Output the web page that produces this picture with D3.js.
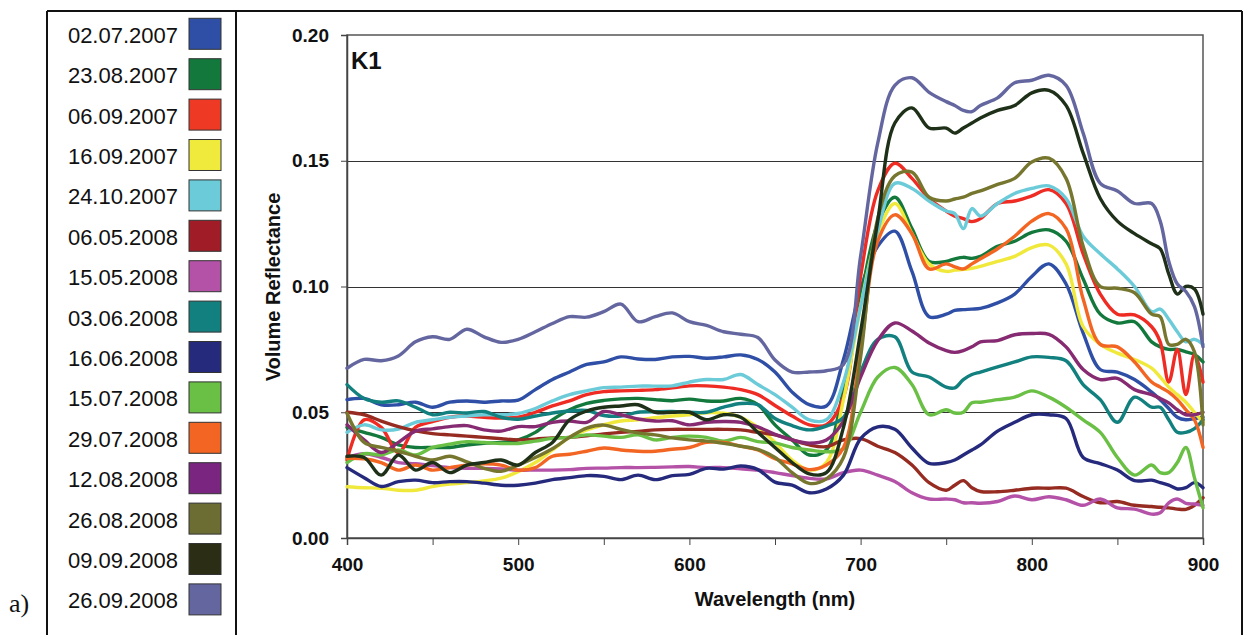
<!DOCTYPE html>
<html><head><meta charset="utf-8">
<script src="https://cdn.jsdelivr.net/npm/d3@7"></script>
<style>body{margin:0;background:#fff;} svg{display:block;font-family:"Liberation Sans",Arial,sans-serif;}</style>
</head><body><svg id="c" width="1244" height="635"></svg>
<script>
const wavelengths = [400,410,420,430,440,450,460,470,480,490,500,510,520,530,540,550,560,570,580,590,600,610,620,630,640,650,660,670,680,690,700,710,720,730,740,750,755,760,765,770,780,790,800,810,820,830,840,850,860,870,875,880,885,890,895,900];
const dates = ["02.07.2007","23.08.2007","06.09.2007","16.09.2007","24.10.2007","06.05.2008","15.05.2008","03.06.2008","16.06.2008","15.07.2008","29.07.2008","12.08.2008","26.08.2008","09.09.2008","26.09.2008"];
const xTickValues = [400,450,500,550,600,650,700,750,800,850,900];
const xTickLabels = [400,500,600,700,800,900];
const yTickValues = [0,0.05,0.10,0.15,0.20];

const r_02_07_2007 = [0.055,0.0555,0.053,0.053,0.054,0.052,0.054,0.0545,0.054,0.0545, 0.0548,0.059,0.063,0.066,0.069,0.070,0.072,0.0712,0.071,0.072, 0.0722,0.0715,0.072,0.0728,0.071,0.066,0.058,0.053,0.0525,0.071, 0.099,0.116,0.122,0.106,0.088,0.089,0.0905,0.0908,0.091,0.0913,0.0935,0.097, 0.104,0.109,0.101,0.0815,0.067,0.066,0.063,0.058,0.055,0.0515,0.048,0.047,0.0475,0.048];
const r_23_08_2007 = [0.044,0.042,0.040,0.037,0.036,0.036,0.036,0.037,0.0377,0.038, 0.039,0.042,0.047,0.051,0.0535,0.0547,0.0553,0.0555,0.055,0.0546, 0.0552,0.0545,0.0545,0.0555,0.053,0.045,0.039,0.033,0.035,0.059, 0.095,0.125,0.1355,0.123,0.110,0.110,0.111,0.1116,0.1112,0.112,0.116,0.118, 0.1215,0.1225,0.118,0.103,0.089,0.0855,0.086,0.078,0.076,0.075,0.075,0.074,0.073,0.070];
const r_06_09_2007 = [0.031,0.047,0.044,0.034,0.044,0.0463,0.048,0.0485,0.048,0.0477, 0.048,0.050,0.0525,0.0545,0.057,0.0582,0.0585,0.0587,0.059,0.0597, 0.0605,0.0605,0.060,0.059,0.057,0.0527,0.0485,0.045,0.045,0.056, 0.104,0.138,0.149,0.143,0.135,0.130,0.128,0.127,0.1258,0.127,0.133,0.134, 0.136,0.1385,0.133,0.113,0.097,0.089,0.0887,0.084,0.078,0.062,0.075,0.057,0.073,0.062];
const r_16_09_2007 = [0.0204,0.020,0.0198,0.019,0.019,0.0204,0.0214,0.022,0.0227,0.0238, 0.0264,0.030,0.035,0.040,0.043,0.045,0.0465,0.047,0.0478,0.0485, 0.049,0.0498,0.0496,0.048,0.044,0.038,0.031,0.027,0.030,0.055, 0.092,0.121,0.133,0.121,0.109,0.106,0.1065,0.1068,0.1072,0.108,0.110,0.112, 0.1155,0.1165,0.109,0.084,0.077,0.0735,0.071,0.0675,0.064,0.060,0.057,0.054,0.050,0.046];
const r_24_10_2007 = [0.042,0.045,0.043,0.0433,0.046,0.047,0.048,0.0485,0.049,0.049, 0.0495,0.0515,0.0545,0.057,0.0585,0.0598,0.060,0.0604,0.0604,0.0605, 0.062,0.063,0.063,0.065,0.061,0.057,0.052,0.047,0.047,0.062, 0.092,0.122,0.141,0.139,0.134,0.130,0.129,0.123,0.131,0.128,0.133,0.137, 0.139,0.140,0.135,0.120,0.113,0.107,0.100,0.090,0.091,0.087,0.082,0.078,0.079,0.077];
const r_06_05_2008 = [0.050,0.049,0.0465,0.0443,0.0426,0.0415,0.041,0.0405,0.040,0.0395, 0.039,0.0393,0.0398,0.040,0.0406,0.0414,0.042,0.0424,0.043,0.0432, 0.0432,0.0432,0.0432,0.043,0.042,0.041,0.039,0.037,0.0363,0.039, 0.0395,0.0365,0.034,0.029,0.022,0.019,0.021,0.0228,0.020,0.0185,0.0184,0.019, 0.0198,0.0198,0.0198,0.0165,0.014,0.0145,0.013,0.0125,0.0122,0.012,0.0115,0.0114,0.013,0.016];
const r_15_05_2008 = [0.032,0.0335,0.032,0.030,0.0295,0.0288,0.028,0.0277,0.0277,0.0275, 0.027,0.027,0.027,0.0272,0.0277,0.0278,0.028,0.028,0.0281,0.0283, 0.0284,0.028,0.028,0.0275,0.027,0.026,0.0248,0.0237,0.0235,0.026, 0.027,0.025,0.0225,0.018,0.0155,0.0155,0.0152,0.014,0.014,0.0138,0.0145,0.0167, 0.0152,0.0164,0.0152,0.013,0.0155,0.012,0.0115,0.0095,0.010,0.014,0.0155,0.0138,0.0135,0.013];
const r_03_06_2008 = [0.061,0.0555,0.054,0.0545,0.052,0.049,0.050,0.0497,0.0503,0.048, 0.0472,0.0485,0.0497,0.0505,0.0507,0.0487,0.0485,0.050,0.0502,0.0503, 0.050,0.050,0.052,0.0535,0.053,0.0475,0.0447,0.043,0.0445,0.048, 0.066,0.079,0.080,0.066,0.064,0.060,0.0597,0.063,0.065,0.066,0.068,0.070, 0.072,0.0718,0.0705,0.061,0.055,0.046,0.056,0.052,0.052,0.047,0.042,0.042,0.0435,0.047];
const r_16_06_2008 = [0.028,0.024,0.0205,0.0224,0.023,0.022,0.0224,0.0224,0.0218,0.021, 0.021,0.0218,0.0232,0.024,0.0248,0.0245,0.0232,0.025,0.0232,0.0248, 0.0253,0.0277,0.0274,0.0286,0.0272,0.0222,0.021,0.018,0.0195,0.025, 0.0395,0.0442,0.0432,0.0358,0.0297,0.030,0.031,0.033,0.035,0.037,0.0425,0.046, 0.049,0.049,0.0475,0.032,0.0296,0.027,0.0228,0.023,0.022,0.021,0.0195,0.020,0.022,0.020];
const r_15_07_2008 = [0.030,0.0335,0.033,0.035,0.033,0.036,0.0373,0.0383,0.038,0.0376, 0.0376,0.0385,0.0396,0.040,0.041,0.0405,0.040,0.041,0.039,0.040, 0.0405,0.040,0.0385,0.040,0.0383,0.0378,0.036,0.035,0.0343,0.0355, 0.050,0.064,0.0678,0.061,0.049,0.051,0.0497,0.050,0.0538,0.054,0.055,0.056, 0.0585,0.056,0.052,0.047,0.042,0.032,0.025,0.029,0.026,0.026,0.030,0.036,0.024,0.012];
const r_29_07_2008 = [0.0317,0.0315,0.030,0.027,0.029,0.027,0.028,0.029,0.0295,0.029, 0.027,0.028,0.0325,0.0333,0.0345,0.0358,0.035,0.0345,0.0345,0.0353, 0.036,0.038,0.038,0.0365,0.035,0.0315,0.0295,0.0272,0.029,0.036, 0.075,0.118,0.1285,0.121,0.107,0.109,0.1078,0.107,0.109,0.111,0.115,0.120, 0.126,0.129,0.123,0.095,0.077,0.076,0.070,0.062,0.060,0.058,0.055,0.051,0.047,0.036];
const r_12_08_2008 = [0.045,0.039,0.034,0.038,0.0425,0.0434,0.0443,0.0447,0.043,0.0425, 0.0443,0.0443,0.046,0.0465,0.046,0.0503,0.049,0.0473,0.0465,0.0466, 0.045,0.046,0.0463,0.046,0.0442,0.0412,0.039,0.0377,0.039,0.0465, 0.064,0.0785,0.0855,0.0823,0.0775,0.0745,0.0738,0.0745,0.076,0.078,0.0785,0.0808, 0.0813,0.081,0.076,0.067,0.063,0.0635,0.059,0.057,0.0555,0.0537,0.051,0.049,0.049,0.050];
const r_26_08_2008 = [0.0496,0.038,0.036,0.0345,0.0325,0.031,0.0325,0.0303,0.0277,0.0265, 0.029,0.032,0.0355,0.040,0.0437,0.0449,0.0432,0.0418,0.041,0.0398, 0.039,0.0385,0.0376,0.0365,0.0352,0.032,0.026,0.0217,0.0235,0.032, 0.072,0.127,0.144,0.1455,0.1355,0.134,0.1348,0.1355,0.137,0.138,0.1406,0.143, 0.1495,0.151,0.143,0.116,0.100,0.0993,0.0975,0.089,0.088,0.077,0.077,0.079,0.074,0.045];
const r_09_09_2008 = [0.0325,0.032,0.025,0.033,0.027,0.030,0.026,0.029,0.030,0.031, 0.029,0.034,0.038,0.047,0.0505,0.052,0.0525,0.053,0.050,0.050, 0.050,0.047,0.049,0.048,0.042,0.036,0.030,0.0255,0.026,0.044, 0.082,0.126,0.165,0.171,0.163,0.163,0.161,0.163,0.165,0.167,0.170,0.172, 0.177,0.178,0.172,0.153,0.135,0.126,0.121,0.117,0.115,0.105,0.097,0.100,0.099,0.089];
const r_26_09_2008 = [0.0675,0.071,0.0705,0.0724,0.078,0.080,0.079,0.083,0.080,0.0778, 0.079,0.082,0.0853,0.088,0.0878,0.090,0.093,0.086,0.088,0.0895, 0.086,0.0845,0.082,0.081,0.0797,0.0708,0.066,0.066,0.0665,0.069, 0.112,0.157,0.180,0.183,0.1772,0.1735,0.172,0.170,0.1695,0.172,0.175,0.181, 0.182,0.184,0.180,0.161,0.141,0.138,0.133,0.133,0.126,0.110,0.101,0.098,0.092,0.076];

const seriesValues = [r_02_07_2007,r_23_08_2007,r_06_09_2007,r_16_09_2007,r_24_10_2007,r_06_05_2008,r_15_05_2008,r_03_06_2008,r_16_06_2008,r_15_07_2008,r_29_07_2008,r_12_08_2008,r_26_08_2008,r_09_09_2008,r_26_09_2008];

const lineColors = ["#2e4fa5","#13783c","#ee2c24","#f0e93c","#6ccbd8","#952b21","#b452a8","#11807f","#262a7c","#6abf45","#f26522","#862a72","#76762f","#1f3019","#6466a0"];
const swatchColors = ["#2e4fa5","#13783c","#ee3a24","#f0ea3c","#6ccbd8","#a01c26","#b452a8","#11807f","#262a7c","#6abf45","#f26522","#7a2580","#6b6d32","#2b2d14","#6466a0"];

const svg = d3.select("#c");
const x = d3.scaleLinear().domain([400,900]).range([347,1203]);
const y = d3.scaleLinear().domain([0,0.2]).range([538,35]);

// outer frame
const frame = svg.append("g").attr("stroke","#111").attr("stroke-width",2);
frame.append("line").attr("x1",47).attr("y1",11).attr("x2",1242).attr("y2",11);
frame.append("line").attr("x1",47).attr("y1",11).attr("x2",47).attr("y2",635);
frame.append("line").attr("x1",236).attr("y1",11).attr("x2",236).attr("y2",635);
frame.append("line").attr("x1",1242).attr("y1",11).attr("x2",1242).attr("y2",635);

svg.append("text").attr("x",9).attr("y",612).attr("font-family","'Liberation Serif',serif").attr("font-size",26).attr("fill","#111").text("a)");

// legend
const leg = svg.append("g");
dates.forEach((d,i)=>{
  const top = 18.3 + i*40.4;
  leg.append("text").attr("x",178).attr("y",top+24.5).attr("text-anchor","end").attr("font-size",22).attr("fill","#111").text(d);
  leg.append("rect").attr("x",189).attr("y",top).attr("width",32).attr("height",31).attr("fill",swatchColors[i]).attr("stroke","#333").attr("stroke-width",1);
});

// gridlines
svg.append("g").selectAll("line").data(yTickValues.filter(v=>v>0 && v<0.2)).join("line")
  .attr("x1",x(400)).attr("x2",x(900)).attr("y1",d=>Math.round(y(d))+0.5).attr("y2",d=>Math.round(y(d))+0.5)
  .attr("stroke","#333").attr("stroke-width",1);

// plot border
svg.append("rect").attr("x",x(400)).attr("y",y(0.2)).attr("width",x(900)-x(400)).attr("height",y(0)-y(0.2))
  .attr("fill","none").attr("stroke","#555").attr("stroke-width",1.5);

// axes
const yAxis = svg.append("g").attr("transform",`translate(${x(400)},0)`)
  .call(d3.axisLeft(y).tickValues(yTickValues).tickSize(6).tickPadding(12).tickFormat(d3.format(".2f")));
yAxis.select(".domain").attr("stroke","#444").attr("stroke-width",1.5);
yAxis.selectAll(".tick line").attr("stroke","#444");
yAxis.selectAll("text").attr("font-size",19).attr("font-weight","bold").attr("fill","#111").attr("font-family","'Liberation Sans',Arial,sans-serif");

const xAxis = svg.append("g").attr("transform",`translate(0,${y(0)})`)
  .call(d3.axisBottom(x).tickValues(xTickValues).tickSize(7).tickPadding(13).tickFormat(d=>xTickLabels.includes(d)?d:""));
xAxis.select(".domain").attr("stroke","#444").attr("stroke-width",1.5);
xAxis.selectAll(".tick line").attr("stroke","#444");
xAxis.selectAll("text").attr("font-size",19).attr("font-weight","bold").attr("fill","#111").attr("font-family","'Liberation Sans',Arial,sans-serif");

svg.append("text").attr("x",775).attr("y",606).attr("text-anchor","middle").attr("font-size",20).attr("font-weight","bold").attr("fill","#111").text("Wavelength (nm)");
svg.append("text").attr("transform","translate(280,287) rotate(-90)").attr("text-anchor","middle").attr("font-size",20).attr("font-weight","bold").attr("fill","#111").text("Volume Reflectance");
svg.append("text").attr("x",351).attr("y",69).attr("font-size",24).attr("font-weight","bold").attr("fill","#111").text("K1");

// lines
const line = d3.line().x((d,i)=>x(wavelengths[i])).y(d=>y(d)).curve(d3.curveCatmullRom.alpha(0.5));
svg.append("g").selectAll("path").data(seriesValues).join("path")
  .attr("d",d=>line(d)).attr("fill","none").attr("stroke",(d,i)=>lineColors[i])
  .attr("stroke-width",3.4).attr("stroke-linejoin","round").attr("stroke-linecap","round");
</script></body></html>
